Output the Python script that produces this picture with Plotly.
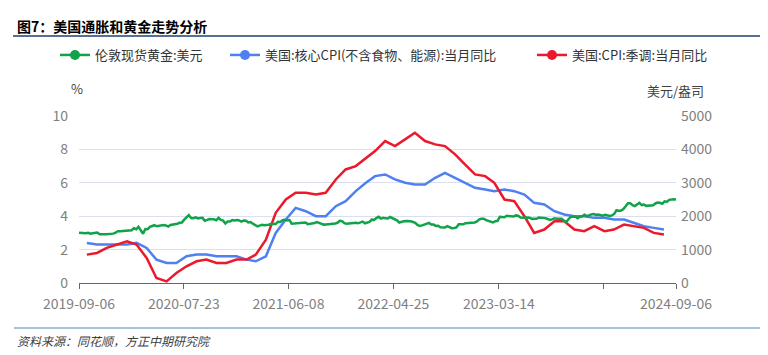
import pandas as pd
import plotly.graph_objects as go

# ---------------- data ----------------
title_text = "图7：美国通胀和黄金走势分析"
source_text = "资料来源：同花顺，方正中期研究院"
series_names = ["伦敦现货黄金:美元", "美国:核心CPI(不含食物、能源):当月同比", "美国:CPI:季调:当月同比"]

# Weekly London spot gold (USD/oz), Fridays from 2019-09-06 to 2024-09-06
gold_2019 = [1507, 1499, 1502, 1489, 1505, 1477, 1490, 1505, 1511, 1459, 1468, 1462, 1460,
             1460, 1476, 1478, 1510]
gold_2020 = [1549, 1552, 1557, 1567, 1582, 1566, 1581, 1640, 1609, 1683, 1562, 1475, 1617,
             1613, 1680, 1695, 1730, 1697, 1707, 1737, 1733, 1725, 1690, 1736, 1747, 1764,
             1774, 1803, 1810, 1897, 1975, 2035, 1946, 1940, 1964, 1933, 1947, 1950, 1862,
             1898, 1917, 1906, 1906, 1879, 1951, 1887, 1866, 1781, 1838, 1838, 1883, 1874]
gold_2021 = [1888, 1872, 1840, 1868, 1863, 1811, 1823, 1776, 1743, 1698, 1719, 1740, 1727,
             1728, 1744, 1775, 1781, 1768, 1831, 1825, 1881, 1896, 1873, 1883, 1773, 1780,
             1782, 1805, 1815, 1800, 1813, 1763, 1767, 1780, 1796, 1823, 1792, 1755, 1748,
             1752, 1757, 1768, 1787, 1783, 1802, 1862, 1851, 1790, 1773, 1783, 1801, 1808, 1806]
gold_2022 = [1787, 1820, 1838, 1788, 1805, 1829, 1896, 1890, 1943, 1985, 1929, 1953,
             1935, 1931, 1975, 1944, 1896, 1877, 1811, 1842, 1851, 1853, 1853, 1848, 1827,
             1802, 1740, 1706, 1724, 1753, 1775, 1799, 1752, 1749, 1709, 1716, 1670, 1654, 1660,
             1700, 1660, 1640, 1648, 1664, 1760, 1753, 1756, 1790, 1793, 1785, 1795, 1813]
gold_2023 = [1845, 1905, 1925, 1927, 1880, 1864, 1836, 1811, 1849, 1862, 1980, 1985, 1970,
             2012, 2005, 1985, 1990, 2024, 2012, 1963, 1946, 1952, 1961, 1955, 1920, 1912,
             1924, 1959, 1963, 1950, 1938, 1915, 1890, 1914, 1940, 1920, 1923, 1923, 1866,
             1823, 1910, 1980, 1990, 1985, 1940, 1985, 1997, 2044, 2004, 2040, 2053, 2062]
gold_2024 = [2040, 2050, 2024, 2018, 2040, 2024, 2004, 2026, 2067, 2180, 2160, 2168, 2214,
             2300, 2390, 2391, 2330, 2302, 2355, 2400, 2333, 2346, 2310, 2316, 2338, 2327,
             2381, 2408, 2400, 2370, 2446, 2426, 2490, 2500, 2509, 2497]
gold = gold_2019 + gold_2020 + gold_2021 + gold_2022 + gold_2023 + gold_2024
gold_dates = pd.date_range("2019-09-06", periods=len(gold), freq="7D")

# Monthly YoY (%), 2019-09 .. 2024-07 (plotted at month end)
core_cpi = [2.4, 2.3, 2.3, 2.3,
            2.3, 2.4, 2.1, 1.4, 1.2, 1.2, 1.6, 1.7, 1.7, 1.6, 1.6, 1.6,
            1.4, 1.3, 1.6, 3.0, 3.8, 4.5, 4.3, 4.0, 4.0, 4.6, 4.9, 5.5,
            6.0, 6.4, 6.5, 6.2, 6.0, 5.9, 5.9, 6.3, 6.6, 6.3, 6.0, 5.7,
            5.6, 5.5, 5.6, 5.5, 5.3, 4.8, 4.7, 4.3, 4.1, 4.0, 4.0, 3.9,
            3.9, 3.8, 3.8, 3.6, 3.4, 3.3, 3.2]
cpi = [1.7, 1.8, 2.1, 2.3,
       2.5, 2.3, 1.5, 0.3, 0.1, 0.6, 1.0, 1.3, 1.4, 1.2, 1.2, 1.4,
       1.4, 1.7, 2.6, 4.2, 5.0, 5.4, 5.4, 5.3, 5.4, 6.2, 6.8, 7.0,
       7.5, 7.9, 8.5, 8.2, 8.6, 9.0, 8.5, 8.3, 8.2, 7.7, 7.1, 6.5,
       6.4, 6.0, 5.0, 4.9, 4.0, 3.0, 3.2, 3.7, 3.7, 3.2, 3.1, 3.4,
       3.1, 3.2, 3.5, 3.4, 3.3, 3.0, 2.9]
cpi_dates = pd.date_range("2019-09-30", periods=len(cpi), freq=pd.offsets.MonthEnd())

tick_dates = ["2019-09-06", "2020-07-23", "2021-06-08", "2022-04-25", "2023-03-14", "2024-01-29", "2024-09-06"]
tick_labels = ["2019-09-06", "2020-07-23", "2021-06-08", "2022-04-25", "2023-03-14", "", "2024-09-06"]
x_range = ["2019-09-06", "2024-09-06"]
left_range = [0, 10]
right_range = [0, 5000]

# ---------------- style ----------------
FONT = "Noto Sans CJK SC"
GREEN = "#12a24a"
BLUE = "#4f7ff0"
RED = "#ea1a2c"
TICK_COLOR = "#7f7f7f"
OFF = 8                      # default page body margin
W, H = 768 - OFF, 355 - OFF  # figure size so page content fits the window
# plot area in page pixels
PL, PR, PT, PB = 79, 676, 116, 283
PW, PH = PR - PL, PB - PT


def px(xp):   # page x -> paper fraction
    return (xp - PL) / PW


def py(yp):   # page y -> paper fraction
    return (PB - yp) / PH


fig = go.Figure()
fig.add_trace(go.Scatter(x=gold_dates, y=gold, mode="lines", yaxis="y2",
                         line=dict(color=GREEN, width=2.5), showlegend=False))
fig.add_trace(go.Scatter(x=cpi_dates, y=core_cpi, mode="lines",
                         line=dict(color=BLUE, width=2.5), showlegend=False))
fig.add_trace(go.Scatter(x=cpi_dates, y=cpi, mode="lines",
                         line=dict(color=RED, width=2.5), showlegend=False))

# legend-only entries (line + dot)
legend_ids = ["legend", "legend2", "legend3"]
for name, col, lg in zip(series_names, [GREEN, BLUE, RED], legend_ids):
    fig.add_trace(go.Scatter(x=[None], y=[None], mode="lines+markers", name=name,
                             line=dict(color=col, width=2.5),
                             marker=dict(color=col, size=10), legend=lg))

leg_common = dict(xref="container", yref="container", yanchor="middle",
                  orientation="h", bgcolor="rgba(0,0,0,0)", borderwidth=0,
                  font=dict(family=FONT, size=13, color="#333333"), itemwidth=30)
legend_x_page = [55, 225, 532]
leg_y = 1 - (55 - OFF) / H
fig.update_layout(
    legend=dict(x=(legend_x_page[0] - OFF) / W, y=leg_y, **leg_common),
    legend2=dict(x=(legend_x_page[1] - OFF) / W, y=leg_y, **leg_common),
    legend3=dict(x=(legend_x_page[2] - OFF) / W, y=leg_y, **leg_common),
)

fig.update_layout(
    width=W, height=H,
    margin=dict(l=PL - OFF, r=W - (PR - OFF), t=PT - OFF, b=H - (PB - OFF), autoexpand=False),
    paper_bgcolor="white", plot_bgcolor="white",
    font=dict(family=FONT, size=14, color=TICK_COLOR),
    xaxis=dict(type="date", range=x_range, tickvals=tick_dates, ticktext=tick_labels,
               showgrid=False, showline=True, linecolor="#666666", linewidth=1.2,
               ticks="outside", ticklen=5, tickcolor="#666666", tickwidth=1.2,
               ticklabelstandoff=3,
               tickfont=dict(family=FONT, size=14, color=TICK_COLOR), zeroline=False),
    yaxis=dict(range=left_range, dtick=2, showgrid=True, gridcolor="#dcdff0", gridwidth=1,
               zeroline=False, showline=False, ticks="", ticklabelstandoff=10,
               tickfont=dict(family=FONT, size=14, color=TICK_COLOR)),
    yaxis2=dict(range=right_range, dtick=1000, overlaying="y", side="right",
                showgrid=False, zeroline=False, showline=False, ticks="", ticklabelstandoff=4,
                tickfont=dict(family=FONT, size=14, color=TICK_COLOR)),
)

# title, axis unit labels, source
fig.add_annotation(text="<b>" + title_text + "</b>", xref="paper", yref="paper",
                   x=px(15), y=py(26), xanchor="left", yanchor="middle",
                   showarrow=False, font=dict(family=FONT, size=14, color="#000000"))
fig.add_annotation(text="%", xref="paper", yref="paper", x=px(77), y=py(88),
                   xanchor="center", yanchor="middle", showarrow=False,
                   font=dict(family=FONT, size=13, color="#404040"))
fig.add_annotation(text="美元/盎司", xref="paper", yref="paper", x=px(675),
                   y=py(90), xanchor="center", yanchor="middle", showarrow=False,
                   font=dict(family=FONT, size=13, color="#404040"))
fig.add_annotation(text=source_text, xref="paper", yref="paper", x=px(15),
                   y=py(340), xanchor="left", yanchor="middle", showarrow=False,
                   font=dict(family=FONT, size=12, color="#404040", style="italic"))

# decorative rules
fig.add_shape(type="line", xref="paper", yref="paper", x0=px(13), x1=px(768),
              y0=py(36), y1=py(36), line=dict(color="#1f3f6e", width=1.5))
fig.add_shape(type="line", xref="paper", yref="paper", x0=px(14), x1=px(768),
              y0=py(328), y1=py(328), line=dict(color="#4f86b0", width=1.2))

fig.write_html("out.html")
